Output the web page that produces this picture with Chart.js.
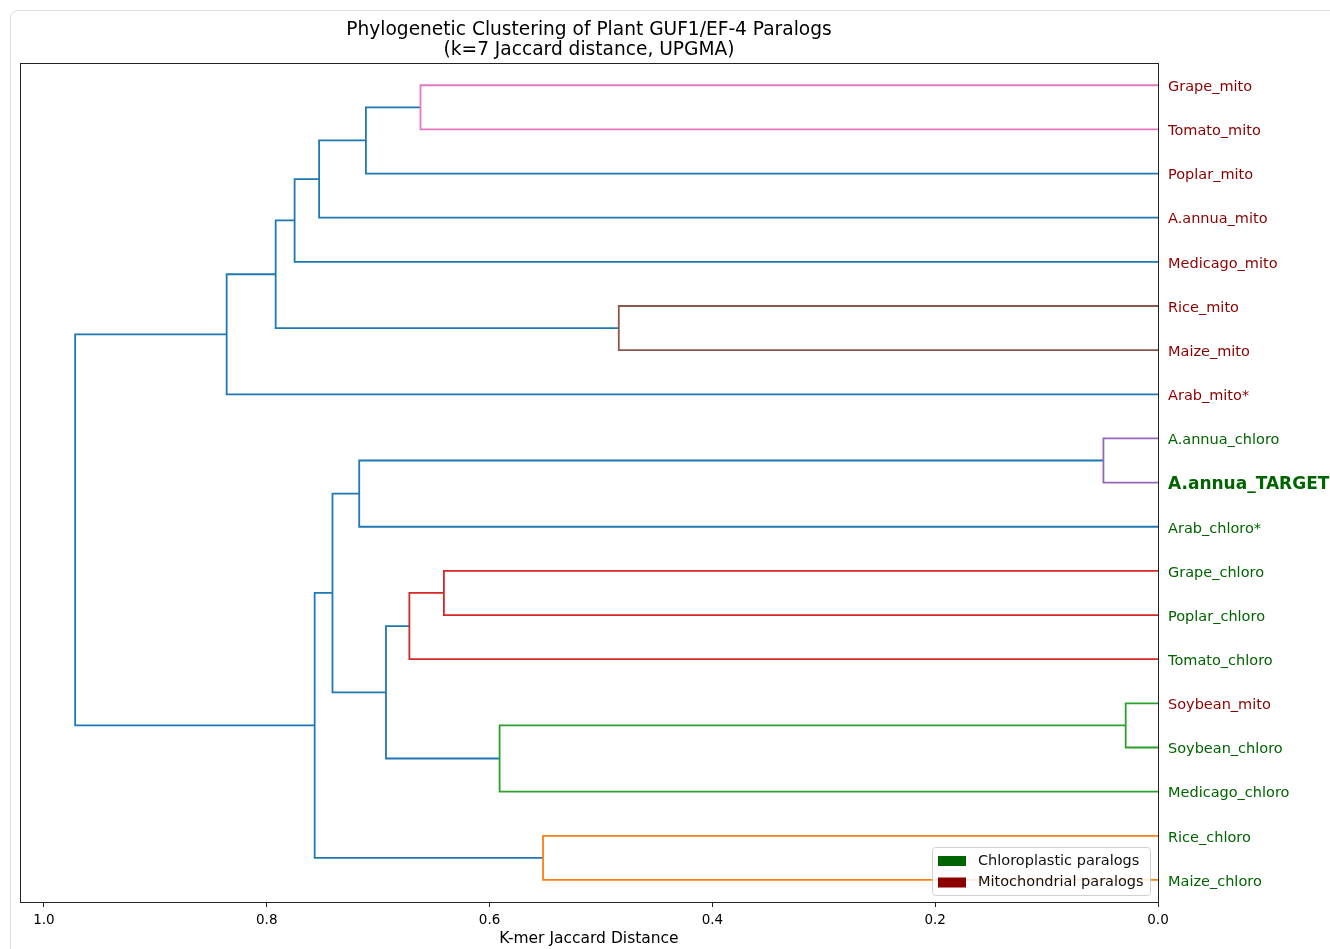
<!DOCTYPE html>
<html lang="en">
  <head>
    <meta charset="UTF-8" />
    <title>GUF1/EF-4 Paralog Dendrogram</title>
    <style>
      body {
        margin: 0;
        padding: 0;
        background-color: #fff;
        overflow: hidden;
      }

      .card {
        position: absolute;
        left: 10px;
        top: 10px;
        width: 1340px;
        height: 960px;
        border: 1px solid #dcdcdc;
        border-radius: 8px;
        background-color: #fff;
      }

      #tree {
        position: absolute;
        left: 0;
        top: 0;
      }
    </style>
  </head>
  <body>
    <div class="card"></div>
    <canvas id="tree" width="1330" height="949"></canvas>

    <script src="https://cdn.jsdelivr.net/npm/chart.js"></script>
    <script>
      // Leaves, top to bottom
      const leaves = [
        "Grape_mito", "Tomato_mito", "Poplar_mito", "A.annua_mito",
        "Medicago_mito", "Rice_mito", "Maize_mito", "Arab_mito*",
        "A.annua_chloro", "A.annua_TARGET", "Arab_chloro*", "Grape_chloro",
        "Poplar_chloro", "Tomato_chloro", "Soybean_mito", "Soybean_chloro",
        "Medicago_chloro", "Rice_chloro", "Maize_chloro",
      ];
      const leafGroup = [
        "mito", "mito", "mito", "mito", "mito", "mito", "mito", "mito",
        "chloro", "chloro", "chloro", "chloro", "chloro", "chloro",
        "mito", "chloro", "chloro", "chloro", "chloro",
      ];
      const targetLeaf = "A.annua_TARGET";

      // UPGMA merges: node ids 0-18 are leaves, merge k creates node 19 + k
      const mergeLeft = [0, 19, 20, 21, 5, 22, 24, 8, 26, 11, 28, 14, 30, 29, 27, 17, 33, 25];
      const mergeRight = [1, 2, 3, 4, 6, 23, 7, 9, 10, 12, 13, 15, 16, 31, 32, 18, 34, 35];
      const mergeHeight = [
        0.662, 0.711, 0.753, 0.775, 0.484, 0.792, 0.836, 0.049, 0.717,
        0.641, 0.672, 0.029, 0.591, 0.693, 0.741, 0.552, 0.757, 0.972,
      ];

      const xTicks = [0, 0.2, 0.4, 0.6, 0.8, 1.0];
      const legendLabels = ["Chloroplastic paralogs", "Mitochondrial paralogs"];

      // styling
      const linkColors = [
        "#e377c2", "#1f77b4", "#1f77b4", "#1f77b4", "#8c564b", "#1f77b4",
        "#1f77b4", "#9467bd", "#1f77b4", "#d62728", "#d62728", "#2ca02c",
        "#2ca02c", "#1f77b4", "#1f77b4", "#ff7f0e", "#1f77b4", "#1f77b4",
      ];
      const groupColors = { chloro: "#006400", mito: "#8b0000" };
      const FONT = "'DejaVu Sans', sans-serif";

      // node positions (leaf slots at 5, 15, 25 ... like scipy)
      const nodeY = leaves.map((_, i) => 5 + 10 * i);
      const nodeH = leaves.map(() => 0);
      const datasets = [];
      mergeHeight.forEach((h, k) => {
        const a = mergeLeft[k];
        const b = mergeRight[k];
        nodeY.push((nodeY[a] + nodeY[b]) / 2);
        nodeH.push(h);
        datasets.push({
          data: [
            { x: nodeH[a], y: nodeY[a] },
            { x: h, y: nodeY[a] },
            { x: h, y: nodeY[b] },
            { x: nodeH[b], y: nodeY[b] },
          ],
          showLine: true,
          borderColor: linkColors[k],
          borderWidth: 1.8,
          pointRadius: 0,
          tension: 0,
        });
      });

      const frameBox = {
        id: "frameBox",
        afterDatasetsDraw(chart) {
          const { ctx, chartArea } = chart;
          ctx.save();
          ctx.strokeStyle = "#222";
          ctx.lineWidth = 1;
          ctx.strokeRect(
            Math.round(chartArea.left) + 0.5,
            Math.round(chartArea.top) + 0.5,
            Math.round(chartArea.right - chartArea.left),
            Math.round(chartArea.bottom - chartArea.top)
          );
          ctx.restore();
        },
      };

      const cornerLegend = {
        id: "cornerLegend",
        afterDraw(chart) {
          const { ctx, chartArea } = chart;
          const w = 218;
          const h = 48;
          const x = chartArea.right - 8 - w;
          const y = chartArea.bottom - 7 - h;
          ctx.save();
          ctx.fillStyle = "rgba(255,255,255,0.85)";
          ctx.strokeStyle = "#d0d0d0";
          ctx.lineWidth = 1;
          ctx.beginPath();
          ctx.roundRect(x + 0.5, y + 0.5, w, h, 3);
          ctx.fill();
          ctx.stroke();
          ctx.font = "14.5px " + FONT;
          ctx.textBaseline = "middle";
          legendLabels.forEach((label, i) => {
            const cy = y + 14 + i * 21.5;
            ctx.fillStyle = i === 0 ? groupColors.chloro : groupColors.mito;
            ctx.fillRect(x + 6, cy - 5, 28, 10);
            ctx.fillStyle = "#111";
            ctx.fillText(label, x + 46, cy);
          });
          ctx.restore();
        },
      };

      new Chart(document.getElementById("tree"), {
        type: "scatter",
        data: { datasets },
        options: {
          responsive: false,
          animation: false,
          devicePixelRatio: 1,
          layout: { padding: { top: 10, left: 20, right: 0, bottom: 0 } },
          plugins: {
            legend: { display: false },
            tooltip: { enabled: false },
            title: {
              display: true,
              fullSize: false,
              text: [
                "Phylogenetic Clustering of Plant GUF1/EF-4 Paralogs",
                "(k=7 Jaccard distance, UPGMA)",
              ],
              color: "#000",
              font: { family: FONT, size: 18.6, weight: "normal", lineHeight: 1.08 },
              padding: { top: 10, bottom: 3 },
            },
          },
          scales: {
            x: {
              type: "linear",
              reverse: true,
              min: 0,
              max: 1.0215,
              afterBuildTicks: (scale) => {
                scale.ticks = xTicks.map((v) => ({ value: v }));
              },
              afterFit: (scale) => {
                scale.height = 47;
              },
              grid: {
                drawOnChartArea: false,
                drawTicks: true,
                tickLength: 5,
                color: "#222",
              },
              border: { display: false },
              ticks: {
                color: "#000",
                padding: 5,
                font: { family: FONT, size: 13.5 },
                callback: (v) => Number(v).toFixed(1),
              },
              title: {
                display: true,
                text: "K-mer Jaccard Distance",
                color: "#000",
                font: { family: FONT, size: 15.5 },
                padding: { top: 0, bottom: 1 },
              },
            },
            y: {
              type: "linear",
              position: "right",
              reverse: true,
              min: 0,
              max: 190,
              afterBuildTicks: (scale) => {
                scale.ticks = leaves.map((_, i) => ({ value: 5 + 10 * i }));
              },
              afterFit: (scale) => {
                scale.width = 172;
              },
              grid: { display: false, drawTicks: false },
              border: { display: false },
              ticks: {
                autoSkip: false,
                padding: 10,
                labelOffset: 2,
                callback: (v, i) => leaves[i],
                color: (ctx) => groupColors[leafGroup[ctx.index]],
                font: (ctx) =>
                  leaves[ctx.index] === targetLeaf
                    ? { family: FONT, size: 17, weight: "bold" }
                    : { family: FONT, size: 14.5, weight: "normal" },
              },
            },
          },
        },
        plugins: [frameBox, cornerLegend],
      });
    </script>
  </body>
</html>
